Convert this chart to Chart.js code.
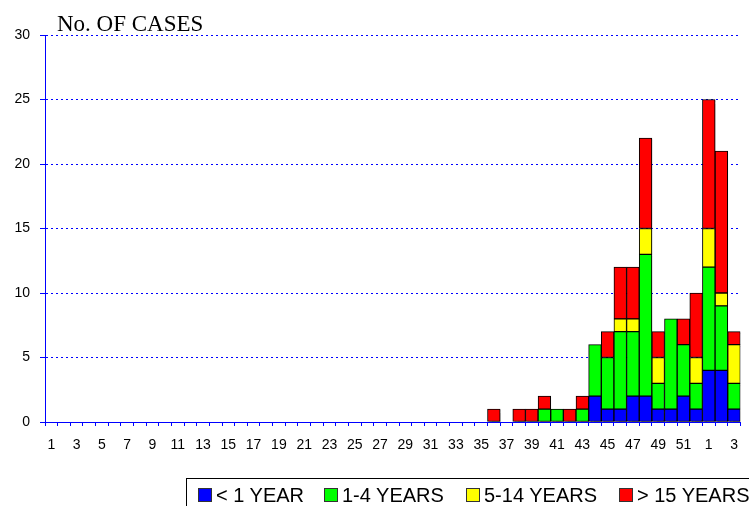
<!DOCTYPE html>
<html>
<head>
<meta charset="utf-8">
<script src="https://cdn.jsdelivr.net/npm/chart.js@4.4.0/dist/chart.umd.min.js"></script>
<style>
  body { margin: 0; background: #fff; }
  #wrap { position: relative; width: 749px; height: 506px; overflow: hidden; }
  #ttl { position: absolute; left: 57px; top: 11px; font: 23px "Liberation Serif", "Times New Roman", serif; color: #000; }
  #leg { position: absolute; left: 186px; top: 478px; width: 600px; height: 34px; border: 1px solid #000; box-sizing: border-box;
         font: 20px "Liberation Sans", Arial, sans-serif; color: #000; }
  .it { position: absolute; top: 5px; white-space: nowrap; }
  .sq { display: inline-block; width: 12px; height: 12px; border: 1px solid #333; vertical-align: 0px; margin-right: 4px; }
</style>
</head>
<body>
<div id="wrap">
  <canvas id="myChart" width="749" height="506"></canvas>
  <div id="ttl">No. OF CASES</div>
  <div id="leg">
    <span class="it" style="left:11px"><span class="sq" style="background:#0000ff"></span>&lt; 1 YEAR</span>
    <span class="it" style="left:137px"><span class="sq" style="background:#00ff00"></span>1-4 YEARS</span>
    <span class="it" style="left:279px"><span class="sq" style="background:#ffff00"></span>5-14 YEARS</span>
    <span class="it" style="left:432px"><span class="sq" style="background:#ff0000"></span>&gt; 15 YEARS</span>
  </div>
</div>
<script>
// week numbers (52 weeks + first 3 of next year)
const weeks = ['1','2','3','4','5','6','7','8','9','10',
  '11','12','13','14','15','16','17','18','19','20',
  '21','22','23','24','25','26','27','28','29','30',
  '31','32','33','34','35','36','37','38','39','40',
  '41','42','43','44','45','46','47','48','49','50',
  '51','52','1','2','3']

const under1 = [0,0,0,0,0,0,0,0,0,0,
  0,0,0,0,0,0,0,0,0,0,
  0,0,0,0,0,0,0,0,0,0,
  0,0,0,0,0,0,0,0,0,0,
  0,0,0,2,1,1,2,2,1,1,
  2,1,4,4,1]

const age1to4 = [0,0,0,0,0,0,0,0,0,0,
  0,0,0,0,0,0,0,0,0,0,
  0,0,0,0,0,0,0,0,0,0,
  0,0,0,0,0,0,0,0,0,1,
  1,0,1,4,4,6,5,11,2,7,
  4,2,8,5,2]

const age5to14 = [0,0,0,0,0,0,0,0,0,0,
  0,0,0,0,0,0,0,0,0,0,
  0,0,0,0,0,0,0,0,0,0,
  0,0,0,0,0,0,0,0,0,0,
  0,0,0,0,0,1,1,2,2,0,
  0,2,3,1,3]

const over15 = [0,0,0,0,0,0,0,0,0,0,
  0,0,0,0,0,0,0,0,0,0,
  0,0,0,0,0,0,0,0,0,0,
  0,0,0,0,0,1,0,1,1,1,
  0,1,1,0,2,4,4,7,2,0,
  2,5,10,11,1]

const yTicks = [0,5,10,15,20,25,30]

const blue = '#0000ff'

function ds(label, data, color){
  return {
    label: label,
    data: data,
    backgroundColor: color,
    borderColor: '#000',
    borderWidth: 1,
    borderSkipped: false,
    barPercentage: 1,
    categoryPercentage: 1
  }
}

// soft shadow like the old spreadsheet bars
const shadow = {
  id: 'shadow',
  beforeDatasetsDraw(chart){
    const c = chart.ctx
    c.save()
    c.shadowColor = 'rgba(0,0,0,0.35)'
    c.shadowOffsetX = 2
    c.shadowOffsetY = 1
    c.shadowBlur = 1
  },
  afterDatasetsDraw(chart){
    chart.ctx.restore()
  }
}

const ctx = document.getElementById('myChart')
const c = new Chart(ctx, {
  type: 'bar',
  data: {
    labels: weeks,
    datasets: [
      ds('< 1 YEAR', under1, '#0000ff'),
      ds('1-4 YEARS', age1to4, '#00ff00'),
      ds('5-14 YEARS', age5to14, '#ffff00'),
      ds('> 15 YEARS', over15, '#ff0000')
    ]
  },
  plugins: [shadow],
  options: {
    responsive: false,
    animation: false,
    devicePixelRatio: 1,
    layout: { padding: { left: 0, top: 35, right: 7, bottom: 44 } },
    plugins: { legend: { display: false }, tooltip: { enabled: false } },
    scales: {
      x: {
        stacked: true,
        afterFit: (s) => { s.height = 40 },
        grid: { display: true, drawOnChartArea: false, drawTicks: true, tickLength: 4, color: blue, offset: true },
        border: { display: true, color: blue, width: 1 },
        ticks: {
          autoSkip: false, maxRotation: 0, minRotation: 0, padding: 11,
          color: '#000', font: { family: 'Liberation Sans', size: 14 },
          callback: function(v, i){ return i % 2 === 0 ? weeks[i] : '' }
        }
      },
      y: {
        stacked: true,
        min: 0, max: 30,
        afterFit: (s) => { s.width = 45 },
        afterBuildTicks: (s) => { s.ticks = yTicks.map(v => ({ value: v })) },
        grid: {
          color: (g) => g.tick && g.tick.value === 0 ? 'rgba(0,0,0,0)' : blue,
          tickColor: blue, tickLength: 5, tickBorderDash: [], lineWidth: 1
        },
        border: { display: true, color: blue, width: 1, dash: [2, 3] },
        ticks: { padding: 10, color: '#000', font: { family: 'Liberation Sans', size: 14 } }
      }
    }
  }
})
</script>
</body>
</html>
